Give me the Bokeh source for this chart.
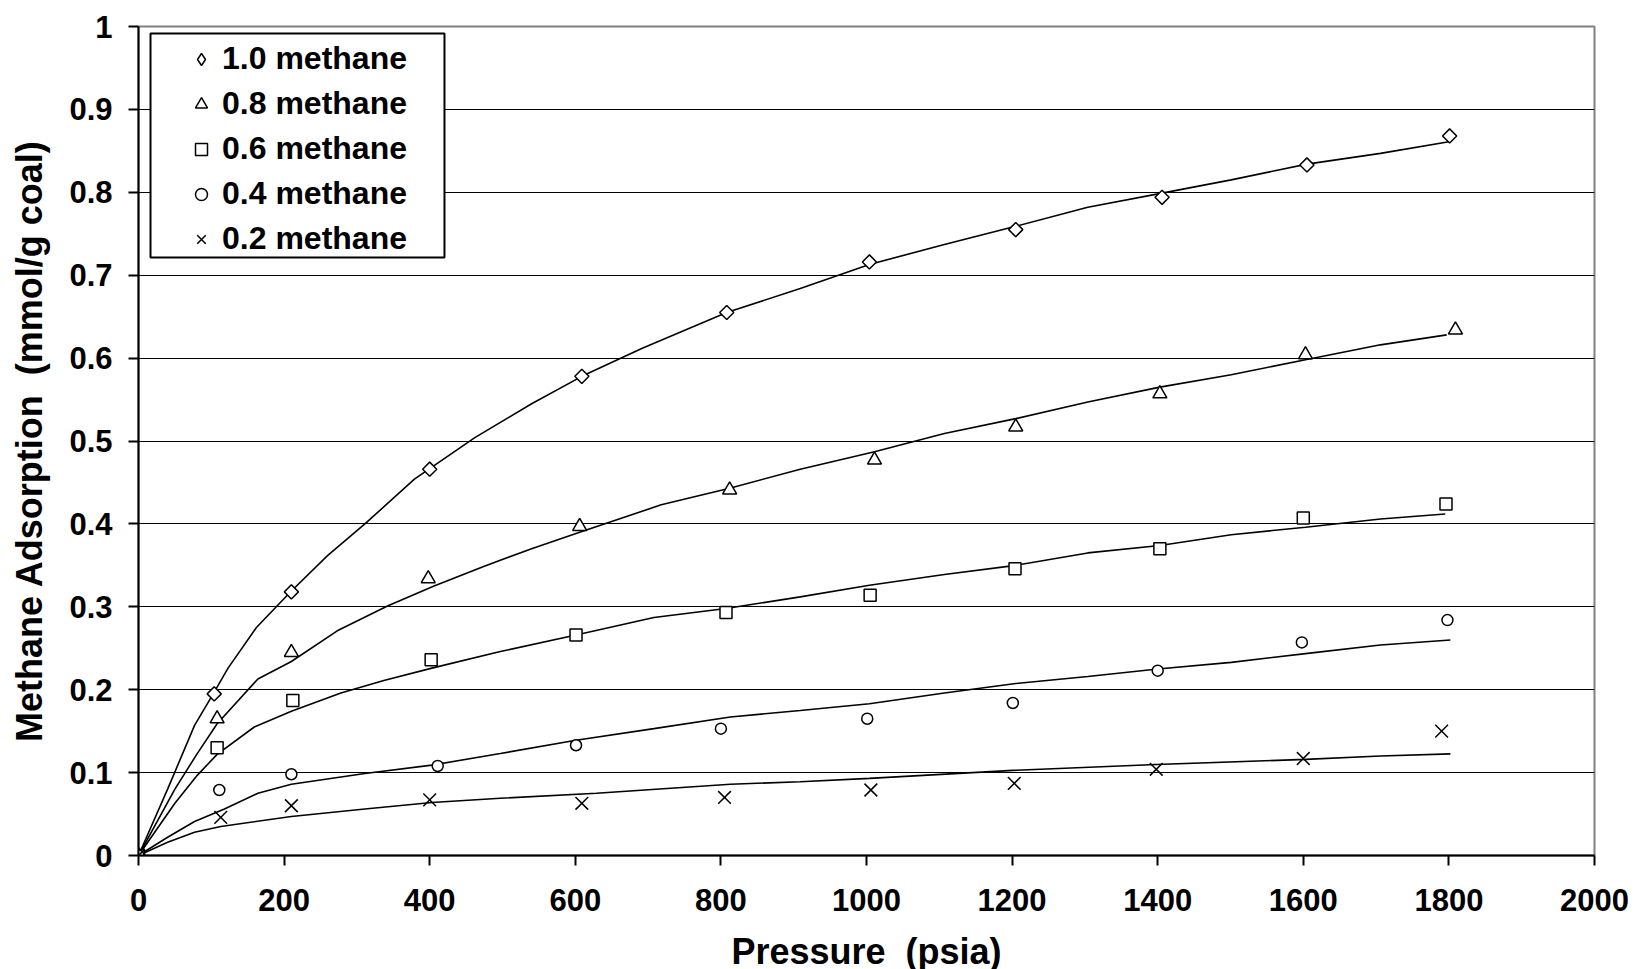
import math
from bokeh.plotting import figure
from bokeh.models import (Range1d, FixedTicker, Legend, LegendItem, CustomJSTickFormatter,
                          BoxAnnotation)
from bokeh.embed import file_html
from bokeh.resources import INLINE

# ---------------- data ----------------
series_labels = ["1.0 methane", "0.8 methane", "0.6 methane", "0.4 methane", "0.2 methane"]

# measured points
m10_x = [0, 104, 210, 400, 609, 808, 1004, 1205, 1406, 1605, 1801]
m10_y = [0, 0.195, 0.318, 0.466, 0.578, 0.655, 0.716, 0.755, 0.794, 0.833, 0.868]
m08_x = [0, 108, 210, 398, 606, 812, 1011, 1205, 1403, 1603, 1809]
m08_y = [0, 0.165, 0.245, 0.334, 0.397, 0.441, 0.477, 0.517, 0.557, 0.604, 0.634]
m06_x = [0, 108, 212, 402, 601, 807, 1005, 1204, 1403, 1600, 1796]
m06_y = [0, 0.130, 0.187, 0.236, 0.266, 0.293, 0.314, 0.346, 0.370, 0.407, 0.424]
m04_x = [0, 111, 210, 411, 601, 800, 1001, 1201, 1400, 1598, 1798]
m04_y = [0, 0.079, 0.098, 0.108, 0.133, 0.153, 0.165, 0.184, 0.223, 0.257, 0.284]
m02_x = [0, 113, 210, 400, 609, 805, 1006, 1203, 1398, 1600, 1790]
m02_y = [0, 0.046, 0.060, 0.067, 0.063, 0.070, 0.079, 0.087, 0.104, 0.117, 0.150]

# fitted curves
c10_x = [0, 40, 77, 104, 123, 162, 210, 260, 311, 379, 462, 540, 609, 692, 808, 909,
         1004, 1107, 1205, 1304, 1406, 1501, 1605, 1706, 1800]
c10_y = [0, 0.08, 0.157, 0.197, 0.226, 0.275, 0.319, 0.362, 0.400, 0.454, 0.504, 0.545,
         0.578, 0.612, 0.655, 0.684, 0.713, 0.737, 0.759, 0.782, 0.799, 0.815, 0.834, 0.847, 0.861]
c08_x = [0, 50, 80, 108, 164, 210, 273, 342, 406, 475, 540, 606, 718, 812, 909, 1011,
         1107, 1205, 1304, 1403, 1501, 1603, 1706, 1797]
c08_y = [0, 0.08, 0.122, 0.159, 0.213, 0.234, 0.271, 0.301, 0.325, 0.349, 0.370, 0.390,
         0.423, 0.443, 0.466, 0.487, 0.509, 0.527, 0.547, 0.565, 0.580, 0.598, 0.616, 0.628]
c06_x = [0, 50, 81, 108, 159, 210, 278, 337, 403, 497, 601, 708, 807, 909, 1004, 1107,
         1205, 1304, 1403, 1501, 1603, 1706, 1795]
c06_y = [0, 0.063, 0.097, 0.122, 0.155, 0.174, 0.196, 0.211, 0.226, 0.246, 0.266, 0.287,
         0.298, 0.312, 0.326, 0.339, 0.350, 0.365, 0.374, 0.387, 0.396, 0.406, 0.412]
c04_x = [0, 40, 77, 118, 164, 210, 311, 403, 497, 601, 708, 813, 909, 1004, 1107, 1205,
         1304, 1400, 1501, 1603, 1706, 1802]
c04_y = [0, 0.022, 0.041, 0.056, 0.075, 0.086, 0.099, 0.109, 0.123, 0.139, 0.153, 0.167,
         0.175, 0.183, 0.196, 0.2075, 0.216, 0.225, 0.233, 0.2435, 0.254, 0.260]
c02_x = [0, 40, 77, 113, 210, 311, 403, 497, 629, 813, 909, 1004, 1201, 1398, 1603, 1706, 1802]
c02_y = [0, 0.016, 0.028, 0.035, 0.047, 0.056, 0.064, 0.069, 0.075, 0.086, 0.089, 0.093,
         0.1027, 0.1097, 0.116, 0.120, 0.1226]

x_ticks = [0, 200, 400, 600, 800, 1000, 1200, 1400, 1600, 1800, 2000]
y_ticks = [0, 0.1, 0.2, 0.3, 0.4, 0.5, 0.6, 0.7, 0.8, 0.9, 1.0]
x_title = "Pressure \u00a0(psia)"
y_title = "Methane Adsorption \u00a0(mmol/g coal)"

FONT = "Liberation Sans"

p = figure(frame_width=1456, frame_height=829,
           min_border_left=138, min_border_right=40, min_border_top=26, min_border_bottom=114,
           x_range=Range1d(0, 2000), y_range=Range1d(0, 1),
           output_backend="svg", toolbar_location=None, tools="")

p.background_fill_color = "white"
p.border_fill_color = "white"
p.outline_line_color = "#808080"
p.outline_line_width = 2

# grid
p.xgrid.visible = False
p.ygrid.ticker = FixedTicker(ticks=y_ticks[1:-1])
p.ygrid.grid_line_color = "black"
p.ygrid.grid_line_width = 1

# axes
for ax in (p.xaxis[0], p.yaxis[0]):
    ax.axis_line_color = "black"
    ax.axis_line_width = 2
    ax.major_tick_line_color = "black"
    ax.major_tick_line_width = 2
    ax.major_tick_out = 10
    ax.major_tick_in = 0
    ax.minor_tick_line_color = None
    ax.major_label_text_font = FONT
    ax.major_label_text_font_style = "bold"
    ax.major_label_text_font_size = "31px"
    ax.major_label_text_color = "black"
    ax.axis_label_text_font = FONT
    ax.axis_label_text_font_style = "bold"
    ax.axis_label_text_font_size = "36px"
    ax.axis_label_text_color = "black"

p.xaxis.ticker = FixedTicker(ticks=x_ticks)
p.yaxis.ticker = FixedTicker(ticks=y_ticks)
p.yaxis.formatter = CustomJSTickFormatter(code="return tick.toFixed(1).replace(/\\.0$/, '');")
p.xaxis.axis_label = x_title
p.yaxis.axis_label = y_title
p.xaxis.major_label_standoff = 23
p.yaxis.major_label_standoff = 16
p.xaxis.axis_label_standoff = 17
p.yaxis.axis_label_standoff = 16

# curves
for cx, cy in [(c10_x, c10_y), (c08_x, c08_y), (c06_x, c06_y), (c04_x, c04_y), (c02_x, c02_y)]:
    p.line(cx, cy, line_color="black", line_width=1.6)

# markers
mk = dict(fill_color="white", line_color="black", line_width=1.5)
# legend-only diamond renderer (hidden in the plot)
r10_leg = p.scatter(m10_x, m10_y, marker="diamond", size=14, visible=False, **mk)
r10 = p.scatter(m10_x, m10_y, marker="square", angle=math.pi / 4, size=10, **mk)
r08 = p.scatter(m08_x, m08_y, marker="triangle", size=14, **mk)
r06 = p.scatter(m06_x, m06_y, marker="square", size=12, **mk)
r04 = p.scatter(m04_x, m04_y, marker="circle", size=11, **mk)
r02 = p.scatter(m02_x, m02_y, marker="x", size=18, **mk)

# legend frame (white box with black border)
p.add_layout(BoxAnnotation(left=16.5, right=420.3, top=0.9915, bottom=0.7213,
                           fill_color="white", fill_alpha=1.0,
                           line_color="black", line_width=2, line_alpha=1.0))

items = [LegendItem(label=lab, renderers=[r]) for lab, r in
         zip(series_labels, [r10_leg, r08, r06, r04, r02])]
legend = Legend(items=items, location=(48, 598))
legend.label_text_font = FONT
legend.label_text_font_style = "bold"
legend.label_text_font_size = "32px"
legend.label_text_color = "black"
legend.border_line_color = None
legend.background_fill_alpha = 0.0
legend.inactive_fill_alpha = 0.0
legend.padding = 36
legend.margin = 0
legend.spacing = 8
legend.glyph_width = 30
legend.glyph_height = 30
legend.label_height = 36
legend.label_standoff = 6
p.add_layout(legend, "center")

open("out.html", "w").write(file_html(p, INLINE))
